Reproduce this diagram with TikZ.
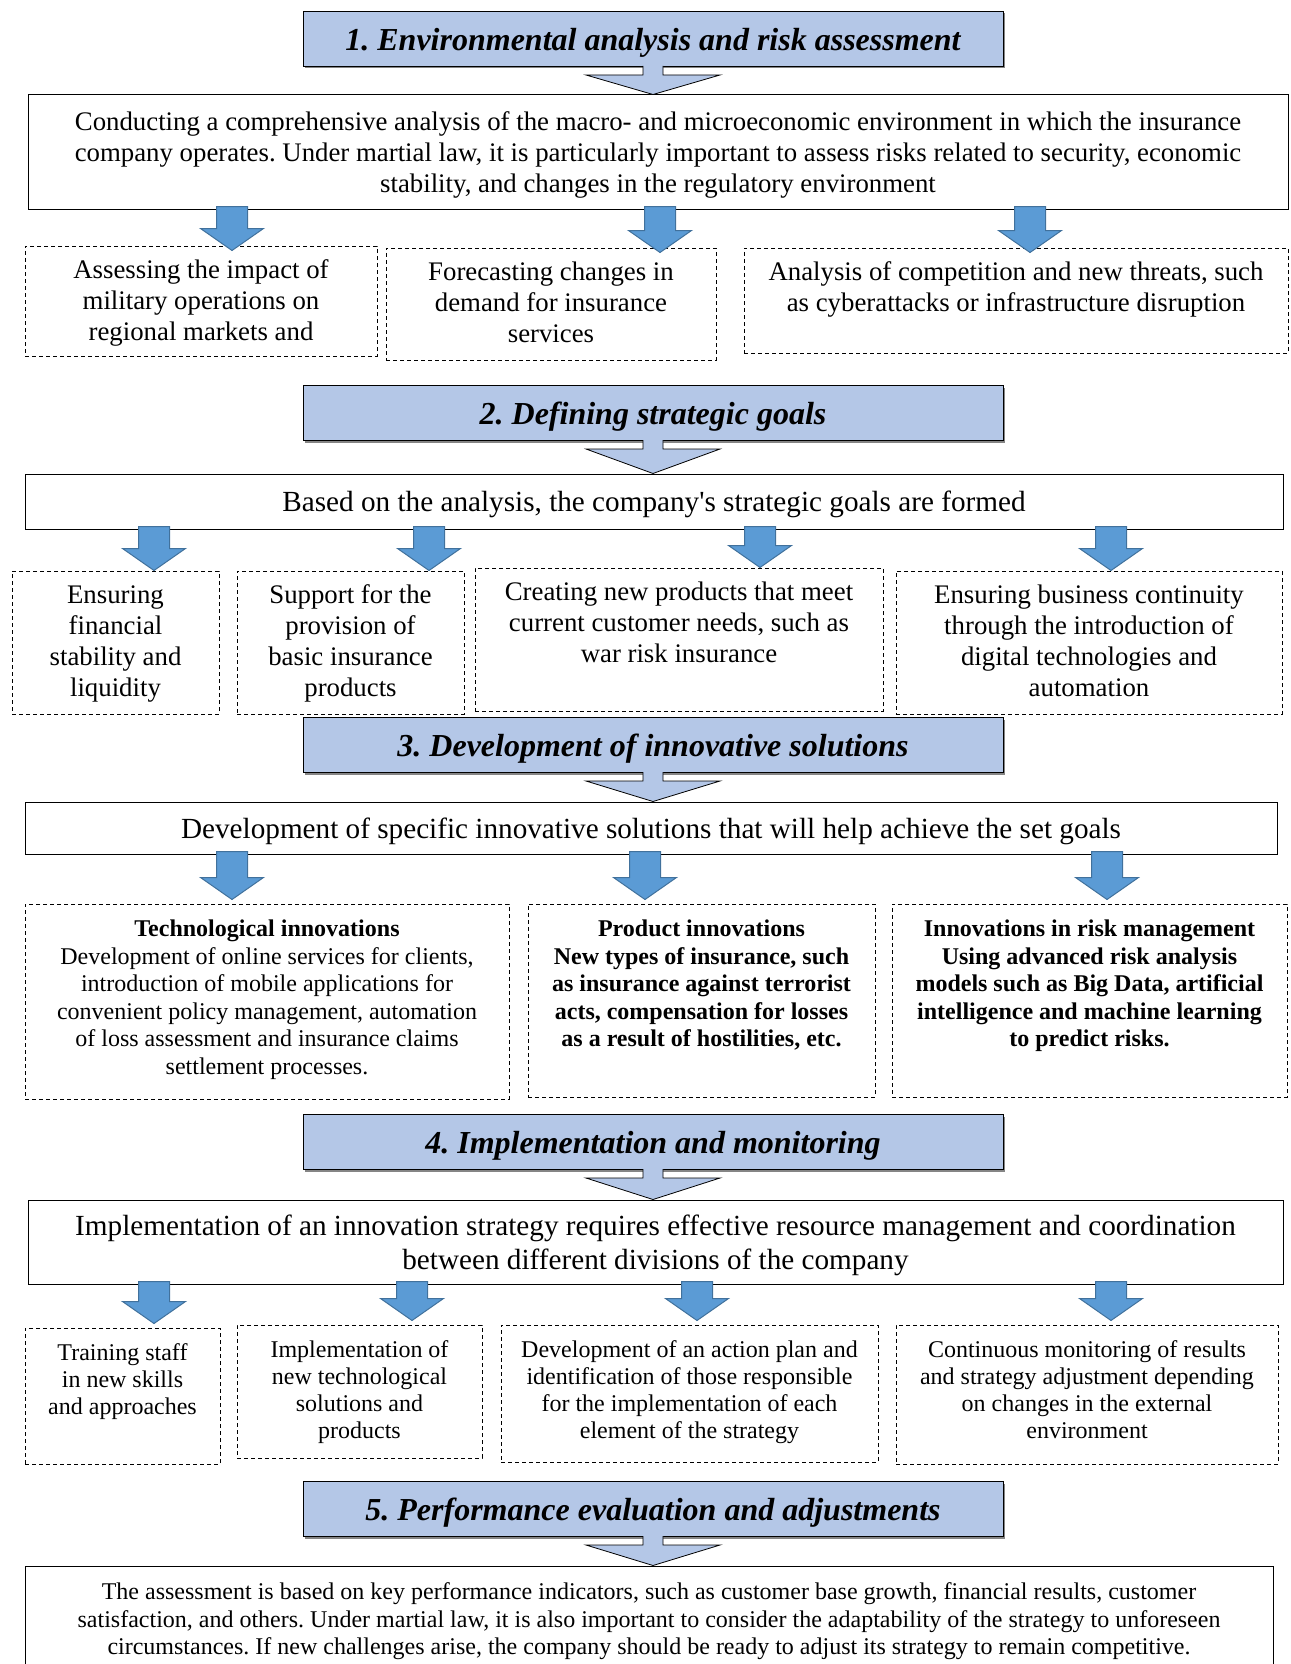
\documentclass[tikz,border=0pt]{standalone}
\usepackage{fontspec}
\setmainfont{Liberation Serif}
\frenchspacing
\usetikzlibrary{calc,shadows}
\definecolor{stageblue}{HTML}{B4C7E7}
\definecolor{arrowblue}{HTML}{5B9BD5}
\definecolor{arrowedge}{HTML}{41719C}
\newcommand{\bodyfont}{\fontsize{26.8}{31}\selectfont}
\newcommand{\leadfont}{\fontsize{29.2}{34}\selectfont}
\newcommand{\smallfont}{\fontsize{24}{27.5}\selectfont}
\newcommand{\rowfourfont}{\fontsize{24}{27}\selectfont}
\tikzset{
  stage/.style={draw=black,line width=1pt,fill=stageblue,minimum width=700,minimum height=55,
    font=\fontsize{32}{36}\selectfont\bfseries\itshape,text depth=0pt,
    drop shadow={shadow xshift=2pt,shadow yshift=-2pt,fill=black!60,opacity=0.8}},
  stagearrow/.style={draw=black,line width=0.8pt,fill=stageblue},
  mainbox/.style={draw=black,line width=1pt,align=center,inner sep=0pt,text depth=0pt},
  itembox/.style={draw=black,line width=1pt,dash pattern=on 4pt off 3pt,inner xsep=5pt,inner ysep=0pt},
  droparrow/.style={draw=arrowedge,line width=1pt,fill=arrowblue}
}
% name, centre, width, height, font, text
\newcommand{\stepitem}[6]{\node[itembox,minimum width=#3,minimum height=#4] (#1) at (#2)
  {\parbox[c][#4pt][t]{\dimexpr#3pt-10pt\relax}{\centering#5\rule{0pt}{32.5pt}#6}};}
% header to box
\newcommand{\stagearr}[2]{\draw[stagearrow] ($(#1.south)+(-10,-1)$) -- ($(#1.south)+(-10,8)$)
  -- ($(#1.south)+(-67,8)$) -- (#1.south |- #2.north) -- ($(#1.south)+(67,8)$)
  -- ($(#1.south)+(10,8)$) -- ($(#1.south)+(10,-1)$);}
% [tip shift] x, upper box, lower box
\newcommand{\droparr}[4][0]{\path (#2,0 |- #3.south) coordinate (top) (#2,0 |- #4.north) coordinate (tip);
  \draw[droparrow] ($(top)+(-15.5,-3)$) -- ($(tip)+(-15.5,#1-22)$) -- ($(tip)+(-31.5,#1-22)$) -- ($(tip)+(0,#1)$)
  -- ($(tip)+(31.5,#1-22)$) -- ($(tip)+(15.5,#1-22)$) -- ($(top)+(15.5,-3)$) -- cycle;}
\begin{document}
\begin{tikzpicture}[x=1pt,y=-1pt]
\useasboundingbox (0,0) rectangle (1290,1664);

\node[stage] (h1) at (653,39) {1. Environmental analysis and risk assessment};
\node[mainbox,minimum width=1260,minimum height=114,font=\bodyfont] (b1) at (658,152)
  {Conducting a comprehensive analysis of the macro- and microeconomic environment in which the insurance\\
   company operates. Under martial law, it is particularly important to assess risks related to security, economic\\
   stability, and changes in the regulatory environment};
\stepitem{a1}{201,301}{352}{110}{\bodyfont}{Assessing the impact of\\ military operations on\\ regional markets and}
\stepitem{a2}{551,304}{330}{112}{\bodyfont}{Forecasting changes in\\ demand for insurance\\ services}
\stepitem{a3}{1016,300.5}{544}{105}{\bodyfont}{Analysis of competition and new threats, such\\ as cyberattacks or infrastructure disruption}
\stagearr{h1}{b1}
\droparr[5]{232}{b1}{a1} \droparr[5]{660}{b1}{a2} \droparr[5]{1030}{b1}{a3}

\node[stage] (h2) at (653,413) {2. Defining strategic goals};
\node[mainbox,minimum width=1258,minimum height=55,font=\leadfont] (b2) at (654,501.5)
  {Based on the analysis, the company\textquotesingle s strategic goals are formed};
\stepitem{c1}{115.5,642.5}{207}{143}{\bodyfont}{Ensuring\\ financial\\ stability and\\ liquidity}
\stepitem{c2}{350.5,642.5}{227}{143}{\bodyfont}{Support for the\\ provision of\\ basic insurance\\ products}
\stepitem{c3}{679,639.5}{408}{143}{\bodyfont}{Creating new products that meet\\ current customer needs, such as\\ war risk insurance}
\stepitem{c4}{1089,642.5}{386}{143}{\bodyfont}{Ensuring business continuity\\ through the introduction of\\ digital technologies and\\ automation}
\stagearr{h2}{b2}
\droparr{154}{b2}{c1} \droparr{429}{b2}{c2} \droparr{760}{b2}{c3} \droparr{1111}{b2}{c4}

\node[stage] (h3) at (653,745) {3. Development of innovative solutions};
\node[mainbox,minimum width=1252,minimum height=52,font=\leadfont] (b3) at (651,828)
  {Development of specific innovative solutions that will help achieve the set goals};
\stepitem{d1}{267,1001.5}{484}{195}{\smallfont}{\textbf{Technological innovations}\\ Development of online services for clients,\\
  introduction of mobile applications for\\ convenient policy management, automation\\ of loss assessment and insurance claims\\ settlement processes.}
\stepitem{d2}{701.5,1000.5}{347}{193}{\smallfont\bfseries}{Product innovations\\ New types of insurance, such\\
  as insurance against terrorist\\ acts, compensation for losses\\ as a result of hostilities, etc.}
\stepitem{d3}{1089.5,1000.5}{395}{193}{\smallfont\bfseries}{Innovations in risk management\\ Using advanced risk analysis\\
  models such as Big Data, artificial\\ intelligence and machine learning\\ to predict risks.}
\stagearr{h3}{b3}
\droparr[-4]{232}{b3}{d1} \droparr[-4]{645}{b3}{d2} \droparr[-4]{1107}{b3}{d3}

\node[stage] (h4) at (653,1142) {4. Implementation and monitoring};
\node[mainbox,minimum width=1255,minimum height=84,font=\leadfont] (b4) at (655.5,1242)
  {Implementation of an innovation strategy requires effective resource management and coordination\\
   between different divisions of the company};
\stepitem{e1}{122.5,1396}{195}{136}{\rowfourfont}{Training staff\\ in new skills\\ and approaches}
\stepitem{e2}{359.5,1391.5}{245}{133}{\rowfourfont}{Implementation of\\ new technological\\ solutions and\\ products}
\stepitem{e3}{689.5,1393.5}{377}{137}{\rowfourfont}{Development of an action plan and\\ identification of those responsible\\ for the implementation of each\\ element of the strategy}
\stepitem{e4}{1087,1394.5}{382}{139}{\rowfourfont}{Continuous monitoring of results\\ and strategy adjustment depending\\ on changes in the external\\ environment}
\stagearr{h4}{b4}
\droparr[-4]{154}{b4}{e1} \droparr[-4]{412}{b4}{e2} \droparr[-4]{697}{b4}{e3} \droparr[-4]{1111}{b4}{e4}

\node[stage] (h5) at (653,1509) {5. Performance evaluation and adjustments};
\node[mainbox,minimum width=1248,minimum height=106,font=\fontsize{24}{27.5}\selectfont] (b5) at (649,1619)
  {The assessment is based on key performance indicators, such as customer base growth, financial results, customer\\
   satisfaction, and others. Under martial law, it is also important to consider the adaptability of the strategy to unforeseen\\
   circumstances. If new challenges arise, the company should be ready to adjust its strategy to remain competitive.};
\stagearr{h5}{b5}
\end{tikzpicture}
\end{document}
